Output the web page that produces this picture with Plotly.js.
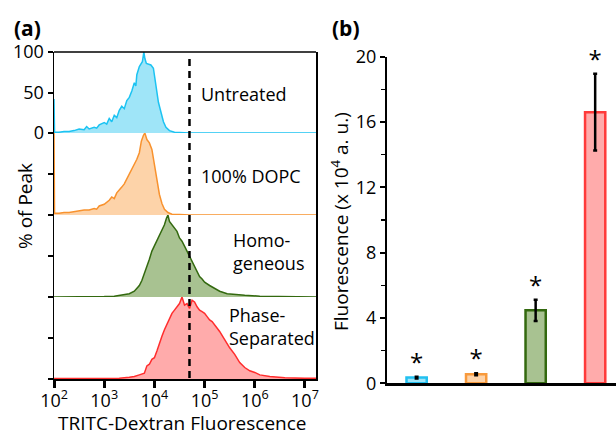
<!DOCTYPE html>
<html><head><meta charset="utf-8">
<script src="https://cdn.plot.ly/plotly-3.0.1.min.js"></script>
<style>html,body{margin:0;padding:0;background:#fff}#chart{width:616px;height:439px}</style>
</head><body><div id="chart"></div>
<script>
// ---- Panel (a): histograms, x = log10(TRITC-Dextran fluorescence), y = % of peak
const untreatedLog = [2.0,2.01,2.1,2.2,2.3,2.4,2.5,2.6,2.65,2.7,2.8,2.85,2.9,3.0,3.05,3.1,3.15,3.2,3.25,3.3,3.35,3.4,3.45,3.5,3.55,3.6,3.63,3.65,3.7,3.73,3.76,3.79,3.81,3.84,3.88,3.93,3.98,4.03,4.08,4.13,4.18,4.23,4.3,4.4,4.55,4.7,7.22];
const untreatedPct = [42,1,1,2,2,3,5,4,8,5,7,6,10,13,11,18,14,22,19,28,33,30,40,44,52,62,58,72,82,85,88,100,92,86,85,84,80,58,38,26,14,7,3,1,0.5,0,0];

const dopcLog = [2.0,2.01,2.1,2.2,2.3,2.4,2.5,2.6,2.7,2.8,2.85,2.9,3.0,3.1,3.15,3.2,3.25,3.3,3.35,3.4,3.45,3.5,3.55,3.6,3.65,3.7,3.74,3.78,3.81,3.85,3.9,3.95,4.0,4.05,4.1,4.15,4.2,4.27,4.35,4.5,4.7,7.22];
const dopcPct = [100,2,2,3,3,4,5,6,6,8,7,11,13,18,22,20,27,30,34,38,44,48,54,60,68,76,90,97,100,92,88,80,62,42,25,14,7,3,1,0.5,0,0];

const homoLog = [2.0,2.5,3.0,3.2,3.4,3.5,3.6,3.65,3.7,3.75,3.8,3.85,3.9,3.95,4.0,4.05,4.1,4.15,4.2,4.24,4.27,4.3,4.35,4.4,4.45,4.5,4.55,4.6,4.65,4.7,4.75,4.8,4.85,4.9,4.95,5.0,5.1,5.2,5.3,5.45,5.6,5.8,6.1,6.5,7.22];
const homoPct = [0,0,0.5,1,3,4,7,10,14,20,28,38,46,56,62,68,74,80,88,96,100,92,88,84,80,72,68,62,56,50,44,36,32,25,22,18,14,10,7,4,3,2,1,0.5,0];

const phaseLog = [2.0,2.5,3.0,3.3,3.5,3.6,3.7,3.8,3.85,3.9,3.95,4.0,4.05,4.1,4.15,4.2,4.25,4.3,4.35,4.4,4.45,4.5,4.55,4.6,4.65,4.7,4.75,4.8,4.85,4.9,4.95,5.0,5.05,5.1,5.15,5.2,5.3,5.4,5.5,5.6,5.7,5.8,5.9,6.0,6.1,6.3,6.6,7.0,7.22];
const phasePct = [0.5,0.5,1,1,2,3,5,7,16,18,24,26,34,44,52,60,66,74,80,84,88,92,100,90,92,86,96,94,88,84,82,80,76,72,70,66,58,48,38,30,20,14,10,8,5,3,1.5,0.8,1];

const histLabels = ['Untreated','100% DOPC','Homo-<br>geneous','Phase-<br>Separated'];
const gateValue = 5e4;  // dashed gate line
const xTickVals = [1e2,1e3,1e4,1e5,1e6,1e7];
const xTickText = ['10<sup>2</sup>','10<sup>3</sup>','10<sup>4</sup>','10<sup>5</sup>','10<sup>6</sup>','10<sup>7</sup>'];

// ---- Panel (b): bar chart
const barCategories = ['Untreated','100% DOPC','Homogeneous','Phase-Separated'];
const barValues = [0.35, 0.55, 4.47, 16.6];
const barErrors = [0.05, 0.06, 0.65, 2.35];
const barStars = ['*','*','*','*'];

const lineColors = ['#1cc3f2','#f8922e','#33690f','#ff2d2d'];
const fillColors = ['#9fe5f8','#fdd3a9','#a8c291','#ffabab'];
const barLineColors = ['#22c0f0','#f89a3c','#33690f','#ff3a3a'];

const FONT = 'Open Sans, Arial, sans-serif';
const series = [[untreatedLog,untreatedPct],[dopcLog,dopcPct],[homoLog,homoPct],[phaseLog,phasePct]];
const yNames = ['y','y2','y3','y4'];
const traces = series.map((s,i)=>({
  type:'scatter', mode:'lines', x:s[0].map(v=>Math.pow(10,v)), y:s[1],
  xaxis:'x', yaxis:yNames[i], fill:'tozeroy', fillcolor:fillColors[i],
  line:{color:lineColors[i], width:1.5}, hoverinfo:'skip'
}));
traces.push({
  type:'bar', x:barCategories, y:barValues, xaxis:'x2', yaxis:'y5', width:0.34,
  marker:{color:fillColors, line:{color:barLineColors, width:2.5}},
  error_y:{type:'data', array:barErrors, visible:true, color:'#000', thickness:2.5, width:2}
});
traces.push({
  type:'scatter', mode:'text', x:barCategories, y:barValues.map((v,i)=>v+barErrors[i]),
  text:barStars, textposition:'top center', xaxis:'x2', yaxis:'y5', cliponaxis:false,
  textfont:{family:FONT, size:24, color:'#000'}, hoverinfo:'skip'
});

// minor log tick positions (2..9 within each decade)
const minorTicks = [];
for (let d = 2; d <= 7; d++) for (let m = 2; m <= 9; m++) minorTicks.push(m * Math.pow(10, d));

const rowDomains = [[0.697,0.8815],[0.5103,0.697],[0.3235,0.5103],[0.1367,0.3235]];
const yBase = {range:[0,100], showgrid:false, zeroline:false, showline:true, mirror:true,
  linecolor:'#000', linewidth:1.5, ticks:'outside', ticklen:5, tickwidth:2, tickcolor:'#000',
  anchor:'x', fixedrange:true, tickfont:{family:FONT,size:18,color:'#000'}};

const layout = {
  width:616, height:439, margin:{l:0,r:0,t:0,b:0},
  paper_bgcolor:'#fff', plot_bgcolor:'rgba(0,0,0,0)', showlegend:false, hovermode:false,
  font:{family:FONT, size:18, color:'#000'},
  xaxis:{type:'log', range:[2,7.22], domain:[0.0877,0.513], anchor:'y4',
    tickvals:xTickVals, ticktext:xTickText, ticks:'outside', ticklen:7, tickwidth:3, tickcolor:'#000',
    ticklabelstandoff:-3,
    showline:true, linecolor:'#000', linewidth:2, showgrid:false, zeroline:false,
    tickfont:{family:FONT,size:18,color:'#000'}},
  xaxis3:{type:'log', range:[2,7.22], domain:[0.0877,0.513], anchor:'y4', overlaying:'x',
    tickvals:minorTicks, showticklabels:false, ticks:'outside', ticklen:4, tickwidth:2, tickcolor:'#000',
    showline:false, showgrid:false, zeroline:false},
  yaxis: Object.assign({}, yBase, {domain:rowDomains[0], tickvals:[0,50,100]}),
  yaxis2: Object.assign({}, yBase, {domain:rowDomains[1], tickvals:[0,50], showticklabels:false}),
  yaxis3: Object.assign({}, yBase, {domain:rowDomains[2], tickvals:[0,50], showticklabels:false}),
  yaxis4: Object.assign({}, yBase, {domain:rowDomains[3], tickvals:[0,50], showticklabels:false}),
  xaxis2:{domain:[0.628,1], range:[-0.5,3.35], anchor:'y5', showticklabels:false, ticks:'',
    showline:true, linecolor:'#000', linewidth:2.5, showgrid:false, zeroline:false},
  yaxis5:{domain:[0.1269,0.8708], range:[0,20], anchor:'x2', dtick:4, tick0:0,
    ticks:'outside', ticklen:5, tickwidth:2, tickcolor:'#000',
    minor:{dtick:2, tick0:0, ticks:'outside', ticklen:4, tickwidth:1.5, tickcolor:'#000', showgrid:false},
    showline:true, linecolor:'#000', linewidth:2, showgrid:false, zeroline:false,
    tickfont:{family:FONT,size:18,color:'#000'}},
  shapes:[
    {type:'line', xref:'x domain', yref:'y domain', x0:0, x1:1, y0:1, y1:1, line:{color:'#000', width:1.5}},
    {type:'line', xref:'x', yref:'paper', x0:gateValue, x1:gateValue, y0:0.139, y1:0.875,
      line:{color:'#000', width:2.5, dash:'7px,5px'}}
  ],
  annotations:[
    {text:'<b>(a)</b>', xref:'paper', yref:'paper', x:12/616, y:1-28/439, xanchor:'left', yanchor:'middle', showarrow:false, font:{size:21}},
    {text:'<b>(b)</b>', xref:'paper', yref:'paper', x:330/616, y:1-28/439, xanchor:'left', yanchor:'middle', showarrow:false, font:{size:21}},
    {text:histLabels[0], xref:'paper', yref:'paper', x:199/616, y:1-94/439, xanchor:'left', yanchor:'middle', showarrow:false, align:'left'},
    {text:histLabels[1], xref:'paper', yref:'paper', x:199/616, y:1-176/439, xanchor:'left', yanchor:'middle', showarrow:false, align:'left'},
    {text:histLabels[2], xref:'paper', yref:'paper', x:231/616, y:1-251/439, xanchor:'left', yanchor:'middle', showarrow:false, align:'left'},
    {text:histLabels[3], xref:'paper', yref:'paper', x:227/616, y:1-326/439, xanchor:'left', yanchor:'middle', showarrow:false, align:'left'},
    {text:'% of Peak', xref:'paper', yref:'paper', x:25/616, y:1-206/439, xanchor:'center', yanchor:'middle', textangle:-90, showarrow:false, font:{size:19}},
    {text:'TRITC-Dextran Fluorescence', xref:'paper', yref:'paper', x:183/616, y:0.002, xanchor:'center', yanchor:'bottom', showarrow:false, font:{size:19}},
    {text:'Fluorescence (x 10<sup>4</sup> a. u.)', xref:'paper', yref:'paper', x:340/616, y:1-222/439, xanchor:'center', yanchor:'middle', textangle:-90, showarrow:false, font:{size:19}}
  ]
};
Plotly.newPlot('chart', traces, layout, {staticPlot:true, displayModeBar:false});
</script></body></html>
